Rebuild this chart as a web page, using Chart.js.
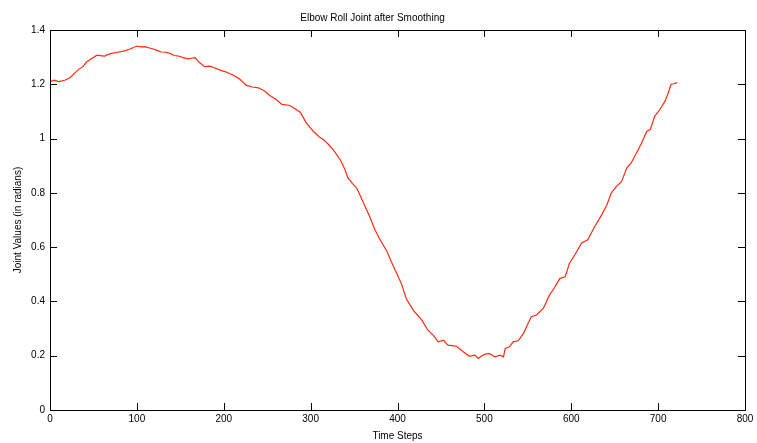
<!DOCTYPE html>
<html>
<head>
<meta charset="utf-8">
<script src="https://cdn.jsdelivr.net/npm/chart.js@4"></script>
<style>
  html, body { margin: 0; padding: 0; background: #fff; }
  #wrap { width: 757px; height: 443px; }
</style>
</head>
<body>
<div id="wrap"><canvas id="myChart"></canvas></div>
<script>
// elbow roll joint angle, sampled time steps
const steps = [
  0, 5, 10, 17, 23, 28, 33, 38, 42, 48, 54, 60, 63, 67, 71, 78, 86, 92, 100, 105,
  109, 113, 117, 123, 128, 133, 138, 143, 148, 153, 159, 163, 167, 172, 178, 184, 190, 196, 203, 211,
  218, 226, 233, 240, 247, 253, 260, 267, 276, 282, 288, 295, 303, 310, 315, 320, 326, 334, 339, 343,
  348, 353, 357, 361, 368, 374, 380, 384, 388, 393, 399, 405, 410, 418, 423, 428, 435, 441, 447, 453,
  458, 463, 468, 476, 483, 489, 493, 497, 501, 506, 512, 518, 522, 524, 529, 533, 539, 545, 549, 554,
  560, 568, 575, 579, 587, 593, 598, 604, 612, 619, 627, 635, 641, 646, 652, 658, 664, 669, 675, 681,
  687, 691, 696, 702, 708, 711, 715, 718, 722
];
const jointValues = [
  1.21, 1.215, 1.21, 1.215, 1.224, 1.24, 1.255, 1.265, 1.282, 1.295, 1.307, 1.305, 1.304, 1.31, 1.314, 1.318, 1.323, 1.33, 1.341, 1.338,
  1.339, 1.335, 1.332, 1.325, 1.319, 1.318, 1.314, 1.306, 1.304, 1.298, 1.294, 1.296, 1.298, 1.28, 1.265, 1.267, 1.26, 1.252, 1.245, 1.233,
  1.22, 1.196, 1.19, 1.187, 1.175, 1.159, 1.145, 1.126, 1.122, 1.11, 1.097, 1.058, 1.027, 1.006, 0.996, 0.98, 0.959, 0.922, 0.89, 0.855,
  0.835, 0.818, 0.79, 0.762, 0.713, 0.664, 0.627, 0.605, 0.584, 0.545, 0.504, 0.461, 0.411, 0.368, 0.35, 0.331, 0.294, 0.276, 0.251, 0.257,
  0.239, 0.237, 0.235, 0.214, 0.198, 0.202, 0.19, 0.2, 0.206, 0.208, 0.196, 0.202, 0.196, 0.227, 0.233, 0.251, 0.255, 0.282, 0.31, 0.344,
  0.35, 0.375, 0.424, 0.442, 0.485, 0.491, 0.541, 0.571, 0.615, 0.627, 0.676, 0.719, 0.755, 0.799, 0.824, 0.842, 0.892, 0.91, 0.947, 0.984,
  1.027, 1.033, 1.082, 1.107, 1.138, 1.163, 1.2, 1.202, 1.206
];
const xTicks = [0, 100, 200, 300, 400, 500, 600, 700, 800];
const yTicks = [0, 0.2, 0.4, 0.6, 0.8, 1, 1.2, 1.4];

const font = { family: "'Liberation Sans', Arial, sans-serif", size: 10 };

// box around the axes with inward ticks on all four sides
const boxTicks = {
  id: "boxTicks",
  afterDraw(chart) {
    const { ctx, chartArea: a, scales } = chart;
    const len = 7;
    ctx.save();
    ctx.strokeStyle = "#000";
    ctx.lineWidth = 1;
    ctx.beginPath();
    xTicks.forEach((v) => {
      const x = Math.round(scales.x.getPixelForValue(v)) + 0.5;
      ctx.moveTo(x, a.bottom); ctx.lineTo(x, a.bottom - len);
      ctx.moveTo(x, a.top); ctx.lineTo(x, a.top + len);
    });
    yTicks.forEach((v) => {
      const y = Math.round(scales.y.getPixelForValue(v)) + 0.5;
      ctx.moveTo(a.left, y); ctx.lineTo(a.left + len, y);
      ctx.moveTo(a.right, y); ctx.lineTo(a.right - len, y);
    });
    ctx.stroke();
    ctx.strokeRect(Math.round(a.left) + 0.5, Math.round(a.top) + 0.5,
      Math.round(a.right - a.left), Math.round(a.bottom - a.top));
    ctx.restore();
  },
};

new Chart(document.getElementById("myChart"), {
  type: "line",
  data: {
    datasets: [{
      data: steps.map((s, i) => ({ x: s, y: jointValues[i] })),
      borderColor: "#ff2a10",
      borderWidth: 1.2,
      pointRadius: 0,
      tension: 0,
      fill: false,
    }],
  },
  options: {
    responsive: true,
    maintainAspectRatio: false,
    animation: false,
    layout: { padding: { right: 12, left: 0, top: 0, bottom: 0 } },
    plugins: {
      legend: { display: false },
      tooltip: { enabled: false },
      title: {
        display: true,
        text: "Elbow Roll Joint after Smoothing",
        color: "#000",
        font: { ...font, weight: "normal" },
        padding: { top: 12, bottom: 6 },
      },
    },
    scales: {
      x: {
        type: "linear",
        min: 0,
        max: 800,
        afterBuildTicks: (s) => { s.ticks = xTicks.map((v) => ({ value: v })); },
        afterFit: (s) => { s.height = 33; },
        grid: { display: false, drawTicks: false },
        border: { display: false },
        ticks: { color: "#000", font, padding: 3, maxRotation: 0 },
        title: {
          display: true,
          text: "Time Steps",
          color: "#000",
          font,
          padding: { top: 0, bottom: 1 },
        },
      },
      y: {
        min: 0,
        max: 1.4,
        afterBuildTicks: (s) => { s.ticks = yTicks.map((v) => ({ value: v })); },
        afterFit: (s) => { s.width = 50; },
        grid: { display: false, drawTicks: false },
        border: { display: false },
        ticks: { color: "#000", font, padding: 5, callback: (v) => String(v) },
        title: {
          display: true,
          text: "Joint Values (in radians)",
          color: "#000",
          font,
          padding: { top: 12, bottom: 0 },
        },
      },
    },
  },
  plugins: [boxTicks],
});
</script>
</body>
</html>
